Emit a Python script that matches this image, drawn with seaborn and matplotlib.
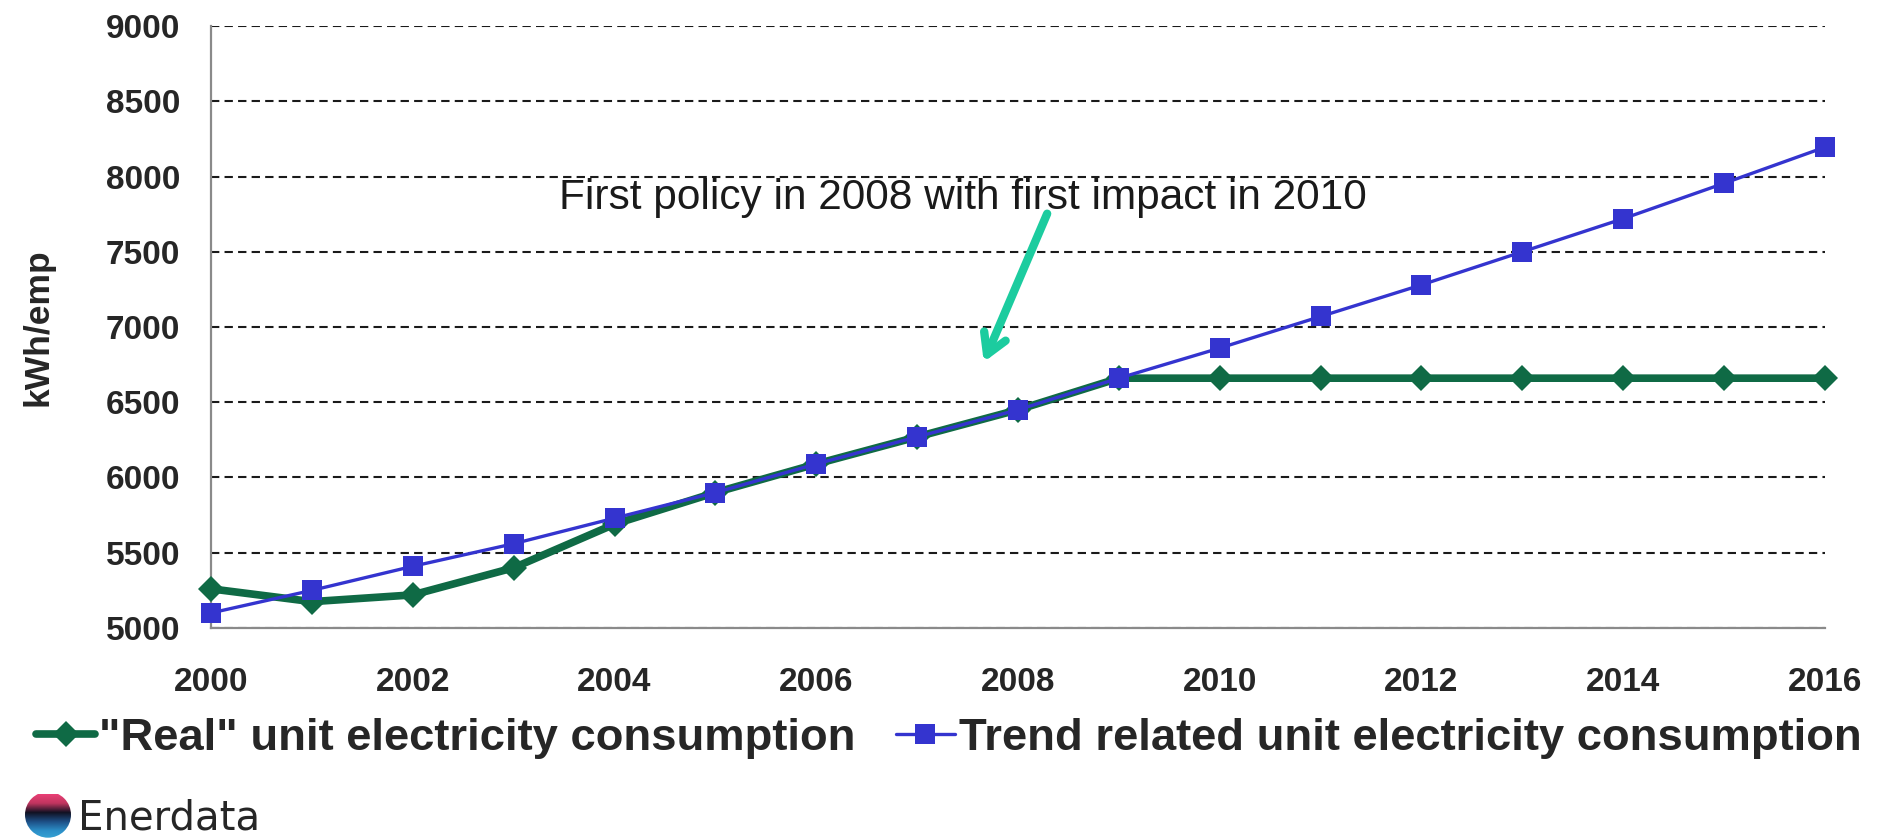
import numpy as np
import pandas as pd
import matplotlib
matplotlib.use("Agg")
import matplotlib.pyplot as plt
import seaborn as sns
from matplotlib.patches import Circle

# Unit electricity consumption, kWh per employee
years = list(range(2000, 2017))
real_kwh = [5260, 5175, 5220, 5400, 5690, 5900, 6090, 6270, 6450, 6660,
            6660, 6660, 6660, 6660, 6660, 6660, 6660]
trend_kwh = [5100, 5250, 5410, 5560, 5730, 5900, 6090, 6270, 6450, 6660,
             6860, 7070, 7280, 7500, 7720, 7955, 8195]

series_labels = ['"Real" unit electricity consumption',
                 'Trend related unit electricity consumption']
y_ticks = [5000, 5500, 6000, 6500, 7000, 7500, 8000, 8500, 9000]
x_ticks = list(range(2000, 2017, 2))
note_text = "First policy in 2008 with first impact in 2010"
brand = "Enerdata"

green = "#0f6a45"
blue = "#3434cf"
teal = "#1ccc9f"

sns.set_theme(style="white")
plt.rcParams["font.family"] = ["Liberation Sans", "DejaVu Sans"]

df_real = pd.DataFrame({"year": years, "kwh": real_kwh})
df_trend = pd.DataFrame({"year": years, "kwh": trend_kwh})

fig = plt.figure(figsize=(18.81, 8.40), dpi=100)
fig.patch.set_facecolor("white")
ax = fig.add_axes([0.1122, 0.2524, 0.8580, 0.7166])

sns.lineplot(data=df_real, x="year", y="kwh", ax=ax, color=green, lw=5.5,
             marker="D", markersize=13, markeredgewidth=0, label=series_labels[0],
             clip_on=False, zorder=3)
sns.lineplot(data=df_trend, x="year", y="kwh", ax=ax, color=blue, lw=2.4,
             marker="s", markersize=15, markeredgewidth=0, label=series_labels[1],
             clip_on=False, zorder=4)

ax.set_xlim(2000, 2016)
ax.set_ylim(5000, 9000)
ax.set_yticks(y_ticks)
ax.set_xticks(years, minor=False)
ax.set_xticklabels([str(y) if y in x_ticks else "" for y in years])

ax.yaxis.grid(True, linestyle=(0, (4, 2.5)), color="#1a1a1a", lw=1.5)
ax.xaxis.grid(False)
ax.set_axisbelow(True)

for side in ("top", "right"):
    ax.spines[side].set_visible(False)
for side in ("left", "bottom"):
    ax.spines[side].set_color("#8a8a8a")
    ax.spines[side].set_linewidth(1.6)

ax.tick_params(axis="x", direction="out", length=14, width=1.4, color="#8a8a8a",
               pad=14, labelsize=24)
ax.tick_params(axis="y", direction="out", length=11, width=1.4, color="#8a8a8a",
               pad=11, labelsize=24)
for lab in ax.get_xticklabels() + ax.get_yticklabels():
    lab.set_fontweight("bold")

ax.set_xlabel("")
ax.set_ylabel("kWh/emp", fontsize=25.5, fontweight="bold")
ax.yaxis.set_label_coords(-0.097, 0.5)

ax.text(2003.45, 7857, note_text, fontsize=30.5, color="#1a1a1a",
        ha="left", va="center")
ax.annotate("", xy=(2007.65, 6750), xytext=(2008.3, 7770),
            arrowprops=dict(arrowstyle="->,head_length=1.2,head_width=0.7",
                            color=teal, lw=6, capstyle="round",
                            joinstyle="round"))

leg = ax.legend(loc="center", bbox_to_anchor=(0.4572, -0.183), ncol=2,
                frameon=False, fontsize=32.7, handlelength=1.3,
                handletextpad=0.09, columnspacing=0.88, borderpad=0,
                borderaxespad=0)
for t in leg.get_texts():
    t.set_fontweight("bold")

# Brand mark: shaded sphere followed by the name
icon = fig.add_axes([25 / 1881, 0, 46 / 1881, 46 / 840])
icon.set_xlim(0, 1)
icon.set_ylim(0, 1)
icon.axis("off")
grad = np.linspace(0, 1, 256)[:, None]
cmap = matplotlib.colors.LinearSegmentedColormap.from_list(
    "sphere", ["#ea3f76", "#c0355f", "#111122", "#1d4f86", "#2c8fc8", "#39a7d6"])
img = icon.imshow(np.repeat(grad, 8, axis=1), cmap=cmap, extent=(0, 1, 0, 1.0),
                  aspect="auto", origin="upper")
clip = Circle((0.5, 0.55), 0.5, transform=icon.transData)
img.set_clip_path(clip)
fig.text(78 / 1881, 1 - 830 / 840, brand, fontsize=29, color="#262626",
         family=["DejaVu Sans"], ha="left", va="baseline")

fig.savefig("out.png", dpi=100, facecolor="white")
